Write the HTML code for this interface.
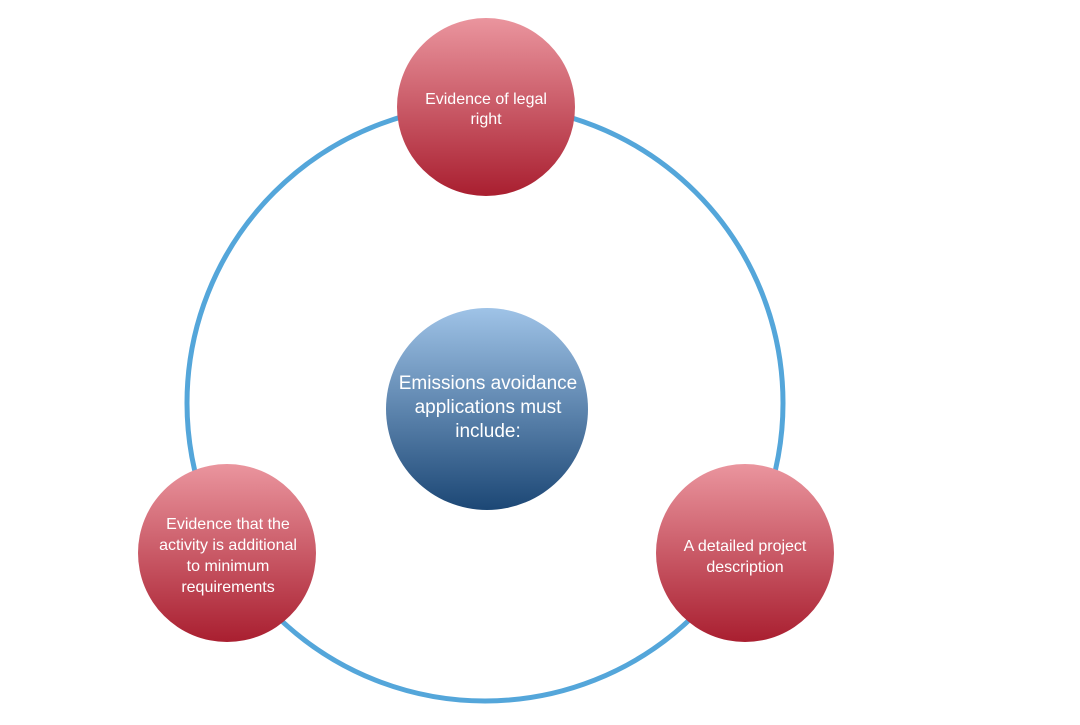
<!DOCTYPE html>
<html><head><meta charset="utf-8"><style>
body{margin:0;background:#fff;width:1080px;height:720px;overflow:hidden}
svg text{font-family:"Liberation Sans",sans-serif;fill:#fff;text-anchor:middle}
</style></head><body>
<svg width="1080" height="720" xmlns="http://www.w3.org/2000/svg">
<defs>
<linearGradient id="r" x1="0" y1="0" x2="0" y2="1"><stop offset="0" stop-color="#ea959e"/><stop offset="1" stop-color="#a91f30"/></linearGradient>
<linearGradient id="b" x1="0" y1="0" x2="0" y2="1"><stop offset="0" stop-color="#9fc3e7"/><stop offset="1" stop-color="#1c4775"/></linearGradient>
</defs>
<circle cx="485" cy="403" r="298" fill="none" stroke="#54a6da" stroke-width="5"/>
<circle cx="486" cy="107" r="89" fill="url(#r)"/>
<circle cx="227" cy="553" r="89" fill="url(#r)"/>
<circle cx="745" cy="553" r="89" fill="url(#r)"/>
<circle cx="487" cy="409" r="101" fill="url(#b)"/>
<text font-size="16"><tspan x="486" y="104">Evidence of legal</tspan><tspan x="486" y="124">right</tspan></text>
<text font-size="16"><tspan x="228" y="529">Evidence that the</tspan><tspan x="228" y="550">activity is additional</tspan><tspan x="228" y="571">to minimum</tspan><tspan x="228" y="592">requirements</tspan></text>
<text font-size="16"><tspan x="745" y="551">A detailed project</tspan><tspan x="745" y="572">description</tspan></text>
<text font-size="19"><tspan x="488" y="389">Emissions avoidance</tspan><tspan x="488" y="413">applications must</tspan><tspan x="488" y="437">include:</tspan></text>
</svg>
</body></html>
